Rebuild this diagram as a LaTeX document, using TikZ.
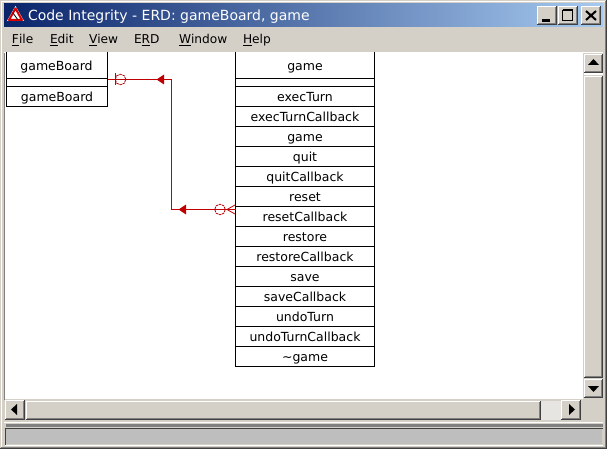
\documentclass[tikz,border=0pt]{standalone}
\usepackage{fontspec}
\setmainfont{DejaVu Sans}
\usetikzlibrary{arrows.meta}
\definecolor{wface}{HTML}{D4D0C8}
\definecolor{wshadow}{HTML}{808080}
\definecolor{wdark}{HTML}{404040}
\definecolor{ered}{HTML}{C00000}
\definecolor{tl}{HTML}{0A246A}
\definecolor{tr}{HTML}{A6CAF0}
\definecolor{wstat}{HTML}{BEBEBE}
\tikzset{
  x=1pt,y=-1pt,
  every node/.style={inner sep=0pt,outer sep=0pt},
  rowfont/.style={font=\fontsize{12.5}{13}\selectfont,text=black,text height=11pt,text depth=1pt},
  row/.style={rowfont,draw=black,line width=1pt,fill=white,minimum width=139pt,anchor=north west},
  rowb/.style={row,minimum width=101pt},
  menu/.style={anchor=base west,font=\fontsize{12.2}{13}\selectfont,text=black},
  rel/.style={draw=ered,line width=1pt},
  relthin/.style={draw=ered,line width=.8pt},
  reldash/.style={relthin,dash pattern=on 2.6pt off .7pt},
  tip/.style={fill=ered,draw=none},
}
\newcommand{\raisedbox}[4]{% x1 y1 x2 y2
  \fill[wface] (#1,#2) rectangle (#3,#4);
  \draw[white,line width=1pt] (#1+.5,#4-1) -- (#1+.5,#2+.5) -- (#3-1,#2+.5);
  \draw[wshadow,line width=1pt] (#1+1,#4-1.5) -- (#3-1.5,#4-1.5) -- (#3-1.5,#2+1);
  \draw[wdark,line width=1pt] (#1,#4-.5) -- (#3-.5,#4-.5) -- (#3-.5,#2);
}
\begin{document}
\begin{tikzpicture}
\useasboundingbox (0,0) rectangle (607,449);
% window frame
\fill[wface] (0,0) rectangle (607,449);
\draw[white,line width=1pt] (1.5,448) -- (1.5,1.5) -- (605,1.5);
\draw[wdark,line width=1pt] (0,448.5) -- (606.5,448.5) -- (606.5,0);
\draw[wshadow,line width=1pt] (1,447.5) -- (605.5,447.5) -- (605.5,1);
% title bar
\shade[left color=tl,right color=tr] (4,4) rectangle (603,27);
\node[anchor=base west,font=\fontsize{14}{15}\selectfont,text=white] (title) at (28,21) {Code Integrity - ERD: gameBoard, game};
% title icon
\fill[white] (15.5,6) -- (24,21) -- (7,21) -- cycle;
\draw[red!85!black,line width=2pt,line join=round] (15.5,8.5) -- (22,20) -- (9,20) -- cycle;
\draw[black,line width=.8pt] (13,13) -- (18,20);
% title buttons
\raisedbox{537}{6}{557}{25}
\raisedbox{558}{6}{578}{25}
\raisedbox{581}{6}{601}{25}
\fill[black] (542,19) rectangle (550,22);
\draw[black,line width=1pt] (562.5,10.5) rectangle (572.5,20.5);
\draw[black,line width=2pt] (562.5,10.5) -- (572.5,10.5);
\draw[black,line width=2pt] (586,11) -- (596,20) (596,11) -- (586,20);
% menu
\node[menu] (mFile) at (12,44) {\underline{F}ile};
\node[menu] (mEdit) at (50,44) {\underline{E}dit};
\node[menu] (mView) at (89,44) {\underline{V}iew};
\node[menu] (mErd) at (134,44) {E\underline{R}D};
\node[menu] (mWin) at (179,44) {\underline{W}indow};
\node[menu] (mHelp) at (243,44) {\underline{H}elp};
\draw[white,line width=1pt] (4,52.5) -- (603,52.5);
% client area
\fill[white] (5,53) rectangle (583,399);
\draw[wshadow,line width=1pt] (4.5,53) -- (4.5,400);
% gameBoard table
\begin{scope}
\clip (5,53) rectangle (583,399);
\node[rowb,minimum height=28pt] (gbHead) at (6.5,50.5) {};
\node[rowfont] (gbName) at (56.5,66) {gameBoard};
\node[rowb,minimum height=8pt,text height=0pt,text depth=0pt] (gbSep) at (6.5,78.5) {};
\node[rowb,minimum height=20pt] (gbOp) at (6.5,86.5) {gameBoard};
% game table
\node[row,minimum height=28pt] (gHead) at (235.5,50.5) {};
\node[rowfont] (gName) at (305,66) {game};
\node[row,minimum height=8pt,text height=0pt,text depth=0pt] (gSep) at (235.5,78.5) {};
\foreach \nm/\txt/\yy in {r1/execTurn/86.5,r2/execTurnCallback/106.5,r3/game/126.5,r4/quit/146.5,r5/quitCallback/166.5,r6/reset/186.5,r7/resetCallback/206.5,r8/restore/226.5,r9/restoreCallback/246.5,r10/save/266.5,r11/saveCallback/286.5,r12/undoTurn/306.5,r13/undoTurnCallback/326.5,r14/{\char`\~game}/346.5}
  \node[row,minimum height=20pt] (\nm) at (235.5,\yy) {\txt};
\end{scope}
% relationship
\coordinate (bendA) at (171.5,79.5);
\coordinate (bendB) at (171.5,209.5);
\coordinate (gbEnd) at (gbSep.east |- bendA);
\coordinate (rEnd) at (r7.west |- bendB);
\draw[rel] (gbEnd) -- (bendA) -- (bendB) -- (rEnd);
\fill[tip] (156.5,79.5) -- (164,74.5) -- (164,84.5) -- cycle;
\fill[tip] (178.5,209.5) -- (186,204.5) -- (186,214.5) -- cycle;
\draw[reldash] (120.5,79.5) circle (5.3);
\draw[relthin] (115.5,73) -- (115.5,85.5);
\draw[reldash] (220,209.5) circle (5.3);
\draw[relthin] (227,209.5) -- (235,205);
\draw[relthin] (227,209.5) -- (235,214);
% vertical scrollbar
\fill[wface] (583,53) rectangle (603,400);
\raisedbox{584}{54}{603}{73}
\fill[black] (588,65) -- (599,65) -- (593.5,59) -- cycle;
\fill[white] (584,73) rectangle (603,75);
\raisedbox{584}{76}{603}{378}
\raisedbox{584}{379}{603}{398}
\fill[black] (588,386) -- (599,386) -- (593.5,392) -- cycle;
% horizontal scrollbar
\raisedbox{5}{400}{25}{420}
\fill[black] (17,404) -- (17,415) -- (11,409.5) -- cycle;
\raisedbox{26}{401}{541}{420}
\fill[wface!55!white] (541,401) rectangle (561,420);
\raisedbox{561}{400}{581}{420}
\fill[black] (569,404) -- (569,415) -- (575,409.5) -- cycle;
% status bar
\fill[white] (4,422) rectangle (603,423);
\fill[wshadow] (6,424) rectangle (603,427);
\fill[wdark] (5,428) rectangle (603,429);
\fill[wstat] (6,429) rectangle (602,444);
\draw[wdark,line width=1pt] (5.5,429) -- (5.5,444.5);
\fill[white] (5,445) rectangle (603,446);
\end{tikzpicture}
\end{document}
